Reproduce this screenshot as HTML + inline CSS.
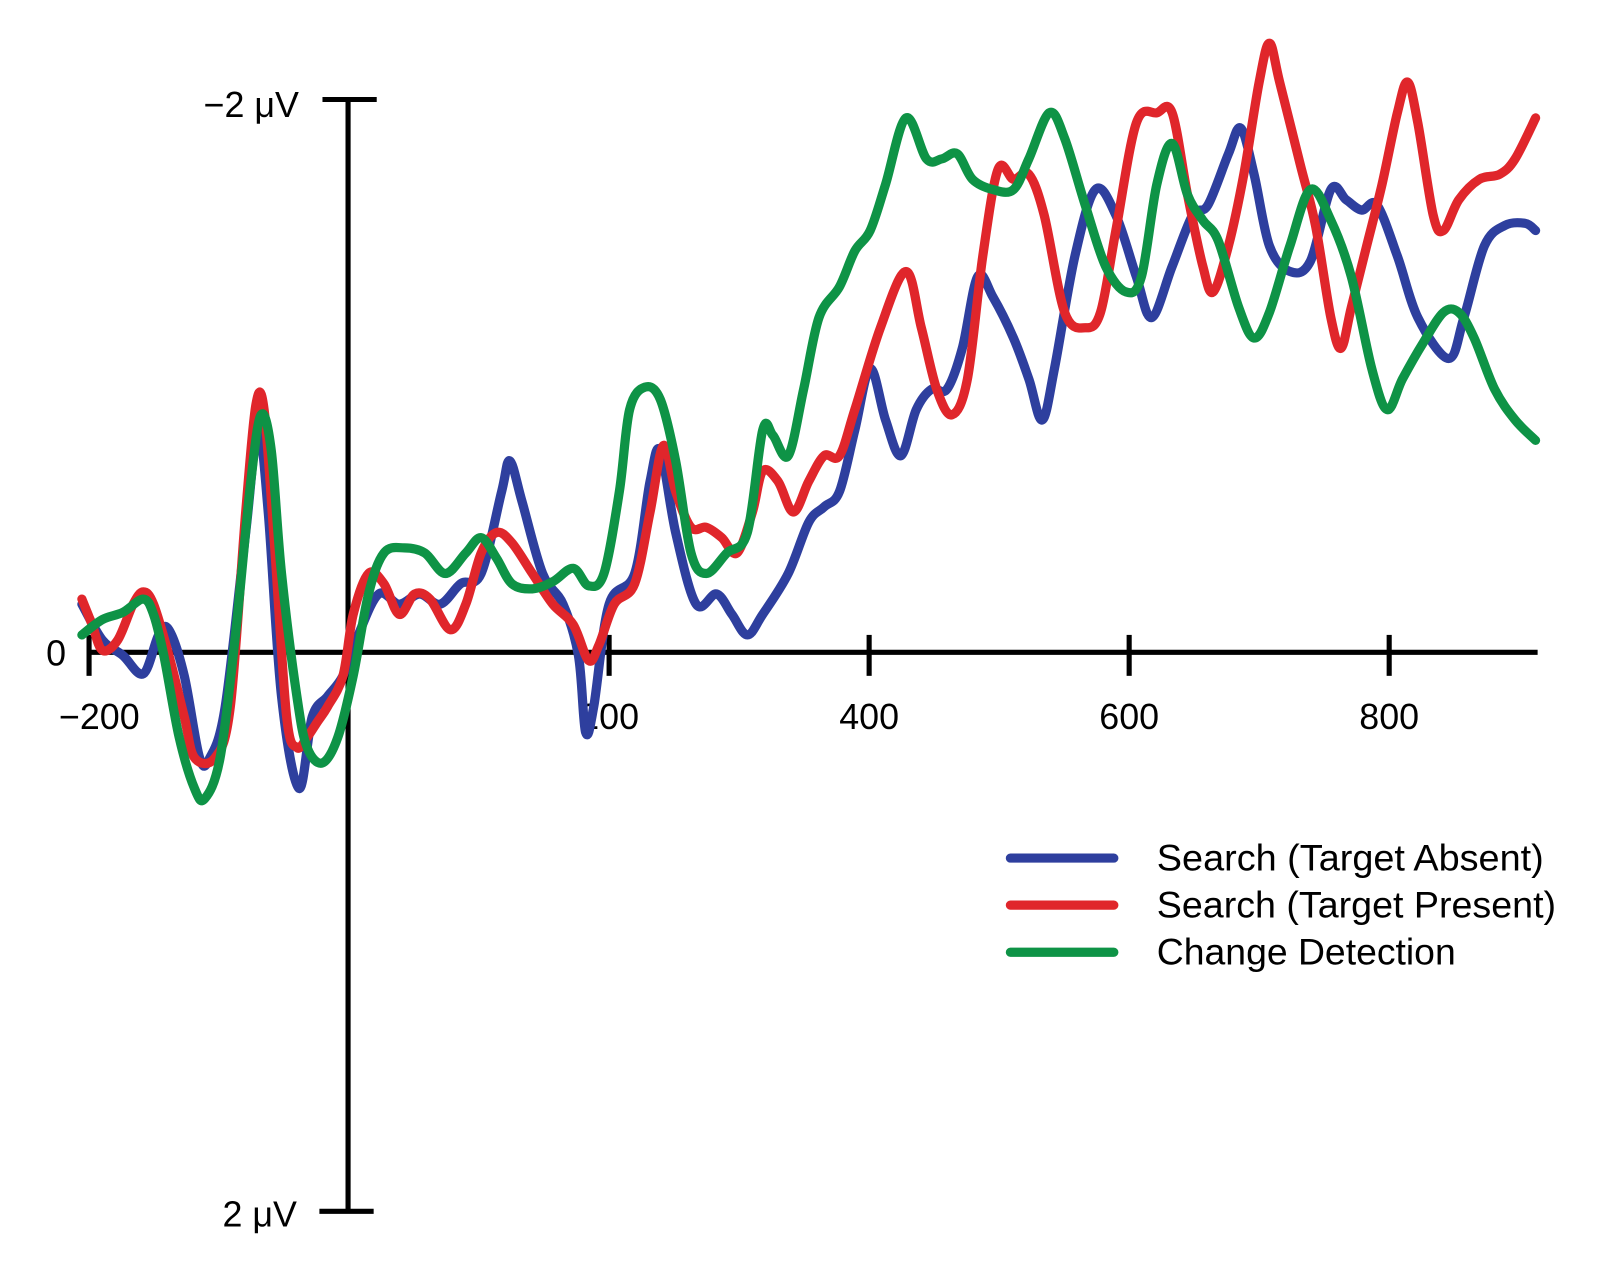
<!DOCTYPE html>
<html><head><meta charset="utf-8"><style>
html,body{margin:0;padding:0;background:#fff;}
svg{display:block;}
text{font-family:"Liberation Sans",sans-serif;fill:#000;}
</style></head><body>
<svg id="s" width="1597" height="1278" viewBox="0 0 1560 1248" xmlns="http://www.w3.org/2000/svg">
<rect width="1560" height="1248" fill="#fff"/>
<g stroke="#000" stroke-width="5" fill="none">
<line x1="85" y1="637" x2="1502" y2="637"/>
<line x1="340" y1="97" x2="340" y2="1183"/>
<line x1="315" y1="97" x2="368" y2="97"/>
<line x1="312" y1="1183" x2="365" y2="1183"/>
<line x1="87" y1="620" x2="87" y2="660"/>
<line x1="595" y1="620" x2="595" y2="660"/>
<line x1="849" y1="620" x2="849" y2="660"/>
<line x1="1103" y1="620" x2="1103" y2="660"/>
<line x1="1357" y1="620" x2="1357" y2="660"/>
</g>
<g font-size="35">
<text x="292" y="114" text-anchor="end">−2 μV</text>
<text x="290" y="1198" text-anchor="end">2 μV</text>
<text x="45" y="650">0</text>
<text x="97" y="712" text-anchor="middle">−200</text>
<text x="595" y="712" text-anchor="middle">200</text>
<text x="849" y="712" text-anchor="middle">400</text>
<text x="1103" y="712" text-anchor="middle">600</text>
<text x="1357" y="712" text-anchor="middle">800</text>
</g>
<g font-size="36">
<text x="1130" y="850" textLength="378" lengthAdjust="spacingAndGlyphs">Search (Target Absent)</text>
<text x="1130" y="896" textLength="390" lengthAdjust="spacingAndGlyphs">Search (Target Present)</text>
<text x="1130" y="942" textLength="292" lengthAdjust="spacingAndGlyphs">Change Detection</text>
</g>
<g stroke-width="9" stroke-linecap="round">
<line x1="987" y1="838" x2="1088" y2="838" stroke="#2e3f9e"/>
<line x1="987" y1="884" x2="1088" y2="884" stroke="#e0262b"/>
<line x1="987" y1="930" x2="1088" y2="930" stroke="#0e9346"/>
</g>
<path id="blue" fill="none" stroke="#2e3f9e" stroke-width="9" stroke-linejoin="round" stroke-linecap="round"/>
<path id="red" fill="none" stroke="#e0262b" stroke-width="9" stroke-linejoin="round" stroke-linecap="round"/>
<path id="green" fill="none" stroke="#0e9346" stroke-width="9" stroke-linejoin="round" stroke-linecap="round"/>
</svg>
<script>
function cr(p){let d="M"+p[0][0]+","+p[0][1];for(let i=0;i<p.length-1;i++){const a=p[i-1]||p[i],b=p[i],c=p[i+1],e=p[i+2]||c;
d+=" C"+(b[0]+(c[0]-a[0])/6).toFixed(1)+","+(b[1]+(c[1]-a[1])/6).toFixed(1)+" "+(c[0]-(e[0]-b[0])/6).toFixed(1)+","+(c[1]-(e[1]-b[1])/6).toFixed(1)+" "+c[0]+","+c[1];}return d;}
const B=[[80,590],[100,625],[120,640],[140,658],[155,620],[165,615],[180,660],[195,740],[205,740],[220,690],[240,520],[252,420],[262,500],[275,680],[292,770],[305,700],[320,680],[335,660],[350,620],[370,580],[390,590],[410,580],[430,590],[450,570],[470,560],[490,480],[498,450],[510,490],[530,560],[550,590],[565,640],[572,715],[580,690],[595,590],[620,560],[635,470],[645,440],[660,520],[680,590],[700,580],[715,600],[730,620],[745,600],[770,560],[790,510],[805,495],[820,480],[835,420],[850,360],[865,410],[880,445],[895,400],[910,380],[925,380],[940,340],[955,270],[970,290],[990,330],[1005,370],[1018,410],[1030,360],[1050,250],[1070,185],[1090,210],[1110,270],[1125,310],[1145,260],[1165,210],[1180,200],[1200,150],[1212,125],[1225,170],[1240,240],[1260,265],[1280,255],[1300,185],[1315,195],[1330,205],[1345,200],[1365,250],[1385,310],[1415,350],[1430,310],[1450,240],[1470,220],[1490,218],[1500,225]];
const R=[[80,585],[90,610],[100,635],[115,625],[130,590],[140,578],[150,590],[165,640],[180,700],[190,740],[210,740],[225,690],[240,500],[250,395],[258,400],[268,530],[280,700],[290,730],[300,720],[310,705],[320,690],[335,660],[345,600],[360,560],[375,570],[390,600],[405,580],[420,585],[440,615],[455,590],[470,540],[485,520],[500,530],[520,560],[540,590],[560,610],[575,645],[585,630],[600,590],[620,570],[635,500],[648,435],[660,480],[675,515],[690,515],[705,525],[720,540],[735,500],[745,460],[760,470],[775,500],[790,470],[805,445],[820,445],[835,400],[860,320],[885,265],[900,320],[915,380],[930,405],[945,370],[960,250],[975,165],[990,175],[1005,170],[1020,210],[1040,305],[1060,320],[1075,305],[1090,225],[1110,120],[1130,110],[1145,110],[1160,190],[1175,260],[1185,285],[1200,240],[1215,170],[1230,80],[1240,42],[1250,80],[1270,160],[1285,220],[1300,310],[1310,340],[1320,300],[1335,240],[1350,180],[1365,110],[1375,80],[1385,120],[1400,210],[1410,225],[1425,195],[1445,175],[1465,170],[1480,155],[1500,115]];
const G=[[80,620],[100,605],[120,598],[140,585],[150,600],[160,640],[175,720],[190,770],[200,780],[215,740],[230,620],[245,470],[255,405],[265,440],[275,560],[290,680],[300,730],[315,745],[330,720],[345,660],[360,580],[375,540],[395,535],[415,540],[435,560],[455,540],[470,525],[485,545],[500,570],[520,575],[540,568],[560,555],[575,572],[590,560],[605,480],[615,400],[630,378],[645,390],[660,450],[675,540],[690,560],[710,540],[730,520],[745,420],[755,425],[770,445],[785,380],[800,310],[820,280],[835,245],[850,225],[865,180],[885,115],[905,155],[920,155],[935,150],[950,175],[970,185],[990,185],[1005,155],[1025,110],[1040,135],[1060,200],[1080,260],[1100,285],[1115,270],[1130,180],[1145,140],[1160,190],[1175,215],[1190,235],[1210,300],[1225,330],[1240,305],[1260,240],[1280,185],[1300,215],[1320,270],[1340,360],[1355,400],[1370,370],[1390,335],[1410,305],[1425,305],[1440,330],[1460,380],[1480,410],[1500,430]];
document.getElementById("blue").setAttribute("d",cr(B));
document.getElementById("red").setAttribute("d",cr(R));
document.getElementById("green").setAttribute("d",cr(G));
</script>
</body></html>
